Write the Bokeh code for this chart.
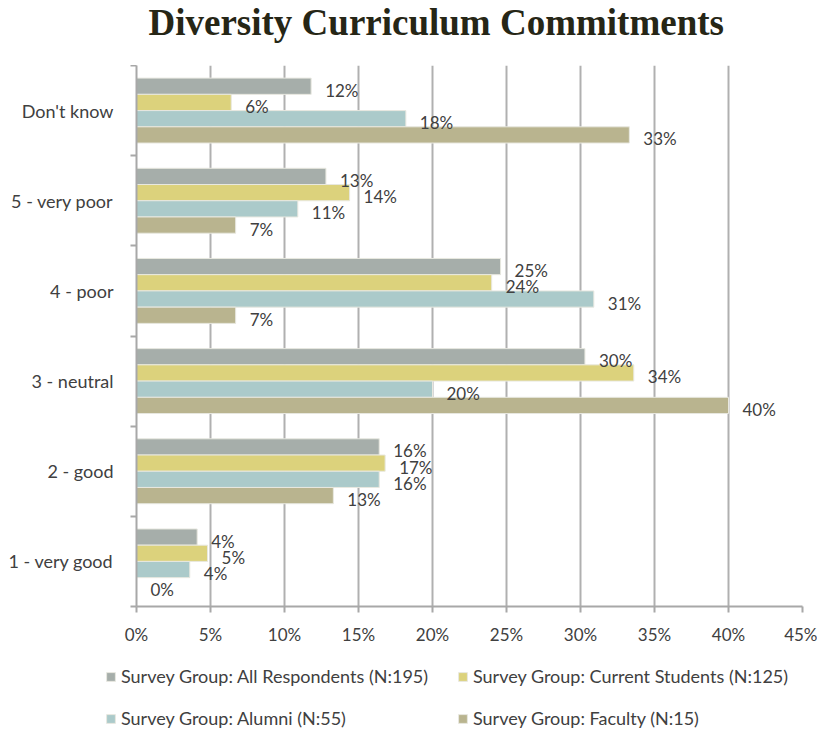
from bokeh.plotting import figure
from bokeh.layouts import column, row
from bokeh.models import (Range1d, FixedTicker, PrintfTickFormatter, Legend, LegendItem,
                          ColumnDataSource, Label)
from bokeh.transform import dodge
from bokeh.core.properties import value
from bokeh.embed import file_html
from bokeh.resources import INLINE

# ---- data (percent) ----
title_text = "Diversity Curriculum Commitments"
categories = ["1 - very good", "2 - good", "3 - neutral", "4 - poor", "5 - very poor", "Don't know"]
all_respondents = [4.1, 16.4, 30.3, 24.6, 12.8, 11.8]
current_students = [4.8, 16.8, 33.6, 24.0, 14.4, 6.4]
alumni = [3.6, 16.4, 20.0, 30.9, 10.9, 18.2]
faculty = [0.0, 13.3, 40.0, 6.7, 6.7, 33.3]
series_names = ["Survey Group: All Respondents (N:195)", "Survey Group: Current Students (N:125)",
                "Survey Group: Alumni (N:55)", "Survey Group: Faculty (N:15)"]
x_ticks = [0, 5, 10, 15, 20, 25, 30, 35, 40, 45]

colors = ["#a6aeaa", "#dcd27c", "#abcaca", "#b9b48f"]
offsets = [0.27, 0.09, -0.09, -0.27]

FONT = "Lato"
TXT = "#404040"
AX = "#a8a8a8"

W = 817
H_TITLE = 65
H_LEG = 74
H_MAIN = 729 - H_TITLE - H_LEG


def strip(height, y0):
    f = figure(width=W, height=height, output_backend="svg", toolbar_location=None,
               x_range=Range1d(0, W), y_range=Range1d(y0, y0 + height),
               x_axis_type=None, y_axis_type=None,
               min_border_left=0, min_border_right=0, min_border_top=0, min_border_bottom=0)
    f.outline_line_color = None
    f.grid.visible = False
    f.background_fill_color = "white"
    f.border_fill_color = "white"
    return f


# ---- title strip ----
tf = strip(H_TITLE, 0)
tf.add_layout(Label(x=148, y=H_TITLE - 22, x_units="screen", y_units="screen", text=title_text,
                    text_font="Liberation Serif", text_font_style="bold", text_font_size="37px",
                    text_color="#262616", text_baseline="alphabetic", text_align="left"))

# ---- main chart ----
p = figure(width=W, height=H_MAIN, output_backend="svg", toolbar_location=None,
           x_range=Range1d(0, 45), y_range=Range1d(-0.5, 5.5),
           min_border_left=136, min_border_right=15, min_border_top=0,
           min_border_bottom=H_MAIN - (606 - H_TITLE))
p.outline_line_color = None
p.background_fill_color = "white"
p.border_fill_color = "white"

src = ColumnDataSource(dict(y=list(range(len(categories))),
                            s0=all_respondents, s1=current_students, s2=alumni, s3=faculty,
                            l0=[f"{round(v)}%" for v in all_respondents],
                            l1=[f"{round(v)}%" for v in current_students],
                            l2=[f"{round(v)}%" for v in alumni],
                            l3=[f"{round(v)}%" for v in faculty]))

for i in range(4):
    p.hbar(y=dodge("y", offsets[i], range=p.y_range), right=f"s{i}", left=0, height=0.18,
           fill_color=colors[i], line_color="#e8e8e0", line_width=1, source=src)
for i in range(4):
    p.text(x=f"s{i}", y=dodge("y", offsets[i], range=p.y_range), text=f"l{i}", source=src,
           x_offset=14, y_offset=4, text_baseline="middle", text_align="left",
           text_font=value(FONT), text_font_size="17px", text_color=TXT)

p.xaxis.ticker = FixedTicker(ticks=x_ticks)
p.xaxis.formatter = PrintfTickFormatter(format="%d%%")
p.xaxis.axis_line_color = AX
p.xaxis.axis_line_width = 2
p.xaxis.major_tick_line_color = AX
p.xaxis.major_tick_line_width = 2
p.xaxis.major_tick_out = 6
p.xaxis.major_tick_in = 0
p.xaxis.minor_tick_line_color = None
p.xaxis.major_label_standoff = 11
p.xaxis.major_label_text_font = FONT
p.xaxis.major_label_text_font_size = "17px"
p.xaxis.major_label_text_color = TXT

p.yaxis.ticker = FixedTicker(ticks=list(range(6)), minor_ticks=[-0.5, 0.5, 1.5, 2.5, 3.5, 4.5, 5.5])
p.yaxis.major_label_overrides = {i: c for i, c in enumerate(categories)}
p.yaxis.axis_line_color = AX
p.yaxis.axis_line_width = 2
p.yaxis.major_tick_line_color = None
p.yaxis.major_tick_out = 0
p.yaxis.major_tick_in = 0
p.yaxis.minor_tick_line_color = AX
p.yaxis.minor_tick_line_width = 2
p.yaxis.minor_tick_out = 6
p.yaxis.minor_tick_in = 0
p.yaxis.major_label_standoff = 17
p.yaxis.major_label_text_font = FONT
p.yaxis.major_label_text_font_size = "18px"
p.yaxis.major_label_text_color = TXT

p.xgrid.ticker = FixedTicker(ticks=x_ticks)
p.xgrid.grid_line_color = "#b0b0b0"
p.xgrid.grid_line_width = 2
p.ygrid.grid_line_color = None

# ---- legend strip (bars of this strip lie outside its view) ----
q = strip(H_LEG, 100)
leg_r = [q.hbar(y="y", right=f"s{i}", left=0, height=0.18, fill_color=colors[i],
                line_color="#e8e8e0", source=src) for i in range(4)]


def make_legend(idx, x):
    lg = Legend(items=[LegendItem(label=series_names[i], renderers=[leg_r[i]]) for i in idx],
                location=(x, 0), orientation="vertical", spacing=20, padding=0, margin=0,
                glyph_width=11, glyph_height=11, label_standoff=5, label_height=20,
                label_text_font=FONT, label_text_font_size="18px", label_text_color=TXT,
                border_line_color=None, background_fill_alpha=0)
    q.add_layout(lg, "center")


make_legend([0, 2], 105)
make_legend([1, 3], 457)

layout = column(row(tf), p, row(q), spacing=0)
open("out.html", "w").write(file_html(layout, INLINE))
